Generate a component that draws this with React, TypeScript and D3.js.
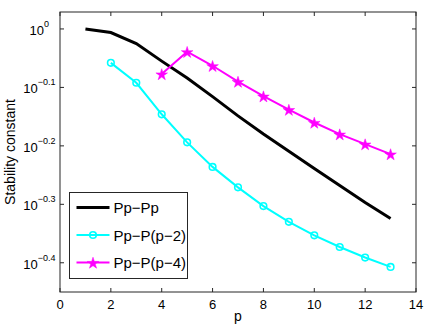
import * as d3 from "d3"
import { useRef, useEffect } from "react"

// values (y axis is log10)
const pAll = [1, 2, 3, 4, 5, 6, 7, 8, 9, 10, 11, 12, 13]
const ppPp = [1.0, 0.986, 0.944, 0.881, 0.824, 0.766, 0.71, 0.661, 0.618, 0.577, 0.54, 0.505, 0.474]
const pFrom2 = [2, 3, 4, 5, 6, 7, 8, 9, 10, 11, 12, 13]
const ppP2 = [0.875, 0.809, 0.7145, 0.6397, 0.5808, 0.5358, 0.4977, 0.4677, 0.4436, 0.4236, 0.4064, 0.3917]
const pFrom4 = [4, 5, 6, 7, 8, 9, 10, 11, 12, 13]
const ppP4 = [0.8375, 0.9142, 0.865, 0.8128, 0.7674, 0.7278, 0.6918, 0.6607, 0.6353, 0.6109]

const xTicks = [0, 2, 4, 6, 8, 10, 12, 14]
const yTickExps = [0, -0.1, -0.2, -0.3, -0.4]
const legendLabels = ["Pp\u2212Pp", "Pp\u2212P(p\u22122)", "Pp\u2212P(p\u22124)"]

const width = 428
const height = 329
const margin = { top: 12, right: 12, bottom: 37, left: 60 }
const font = "'Liberation Sans', Arial, Helvetica, sans-serif"

export default function App() {
  const x = d3.scaleLinear().domain([0, 14]).range([margin.left, width - margin.right])
  const y = d3.scaleLog()
    .domain([Math.pow(10, -0.45), Math.pow(10, 0.029)])
    .range([height - margin.bottom, margin.top])

  const line = d3.line<[number, number]>().x(d => x(d[0])).y(d => y(d[1]))
  const star = d3.symbol().type(d3.symbolStar).size(42)

  const s1 = pAll.map((p, i) => [p, ppPp[i]] as [number, number])
  const s2 = pFrom2.map((p, i) => [p, ppP2[i]] as [number, number])
  const s3 = pFrom4.map((p, i) => [p, ppP4[i]] as [number, number])

  const [x0, x1] = x.range()
  const [y0, y1] = y.range()
  const tk = 4
  const axisCol = "#262626"

  const lg = { x: 69.5, y: 192.5, w: 118, h: 86, row0: 207.5, rowStep: 27.5 }

  return (
    <svg width={width} height={height} style={{ position: "absolute", left: 0, top: 0, background: "#fff" }} fontFamily={font}>
      <rect x={0} y={0} width={width} height={height} fill="#fff" />
      {/* series */}
      <path d={line(s1)!} fill="none" stroke="#000" strokeWidth={3} />
      <path d={line(s2)!} fill="none" stroke="#00ffff" strokeWidth={2} />
      {s2.map((d, i) => (
        <circle key={i} cx={x(d[0])} cy={y(d[1])} r={3.3} fill="none" stroke="#00ffff" strokeWidth={1.6} />
      ))}
      <path d={line(s3)!} fill="none" stroke="#ff00ff" strokeWidth={2} />
      {s3.map((d, i) => (
        <path key={i} d={star()!} transform={`translate(${x(d[0])},${y(d[1]) + 0.8})`} fill="#ff00ff" stroke="#ff00ff" strokeWidth={0.5} />
      ))}

      {/* axes box and ticks */}
      <rect x={x0} y={y1} width={x1 - x0} height={y0 - y1} fill="none" stroke={axisCol} strokeWidth={1} />
      {xTicks.map(t => (
        <g key={"x" + t}>
          <line x1={x(t)} x2={x(t)} y1={y0} y2={y0 - tk} stroke={axisCol} />
          <line x1={x(t)} x2={x(t)} y1={y1} y2={y1 + tk} stroke={axisCol} />
          <text x={x(t)} y={y0 + 17} textAnchor="middle" fontSize={13} fill="#000">{t}</text>
        </g>
      ))}
      {yTickExps.map(e => {
        const yy = y(Math.pow(10, e))
        const endX = e === 0 ? 49 : 55.5
        return (
          <g key={"y" + e}>
            <line x1={x0} x2={x0 + tk} y1={yy} y2={yy} stroke={axisCol} />
            <line x1={x1} x2={x1 - tk} y1={yy} y2={yy} stroke={axisCol} />
            <text x={endX} y={yy + 6} textAnchor="end" fontSize={13} fill="#000">
              10<tspan fontSize={9} dy={-8}>{e === 0 ? "0" : "\u2212" + Math.abs(e).toFixed(1)}</tspan>
            </text>
          </g>
        )
      })}

      {/* axis labels */}
      <text x={(x0 + x1) / 2} y={321} textAnchor="middle" fontSize={14} fill="#000">p</text>
      <text transform={`translate(15,${(y0 + y1) / 2}) rotate(-90)`} textAnchor="middle" fontSize={14} fill="#000">Stability constant</text>

      {/* legend */}
      <rect x={lg.x} y={lg.y} width={lg.w} height={lg.h} fill="#fff" stroke={axisCol} strokeWidth={1} />
      {legendLabels.map((lab, i) => {
        const ry = lg.row0 + i * lg.rowStep
        const col = ["#000", "#00ffff", "#ff00ff"][i]
        return (
          <g key={lab}>
            <line x1={76.5} x2={109.5} y1={ry} y2={ry} stroke={col} strokeWidth={i === 0 ? 3 : 2} />
            {i === 1 && <circle cx={93} cy={ry} r={3.3} fill="none" stroke={col} strokeWidth={1.6} />}
            {i === 2 && <path d={star()!} transform={`translate(93,${ry + 0.8})`} fill={col} stroke={col} strokeWidth={0.5} />}
            <text x={113.5} y={ry + 5.5} fontSize={15} fill="#000">{lab}</text>
          </g>
        )
      })}
    </svg>
  )
}
